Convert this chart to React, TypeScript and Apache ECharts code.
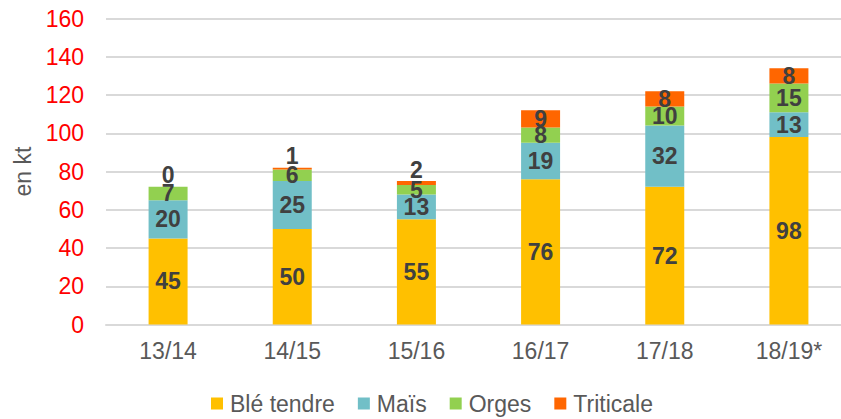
import React, { useEffect, useRef } from "react";
import * as echarts from "echarts";

const categories = ["13/14", "14/15", "15/16", "16/17", "17/18", "18/19*"];
const bleTendre = [45, 50, 55, 76, 72, 98];
const mais = [20, 25, 13, 19, 32, 13];
const orges = [7, 6, 5, 8, 10, 15];
const triticale = [0, 1, 2, 9, 8, 8];
const yTicks = [0, 20, 40, 60, 80, 100, 120, 140, 160];

const FONT = "'Liberation Sans', Arial, sans-serif";

export default function App() {
  const ref = useRef<HTMLDivElement>(null);
  useEffect(() => {
    if (!ref.current) return;
    const chart = echarts.init(ref.current, undefined, { renderer: "svg" });
    const labelStyle = {
      show: true,
      position: "inside" as const,
      color: "#404040",
      fontWeight: "bold" as const,
      fontSize: 23,
      fontFamily: FONT,
    };
    const mk = (name: string, data: any[], color: string) => ({
      name,
      type: "bar",
      stack: "total",
      barWidth: 39,
      data,
      itemStyle: { color },
      label: labelStyle,
    });
    chart.setOption({
      animation: false,
      textStyle: { fontFamily: FONT },
      grid: { left: 106, top: 18.5, width: 745, height: 306, containLabel: false },
      legend: {
        left: 206,
        top: 387,
        itemWidth: 12,
        itemHeight: 12,
        itemGap: 23,
        icon: "rect",
        textStyle: { color: "#595959", fontSize: 23, fontFamily: FONT, padding: [0, 0, 0, 2] },
        data: ["Blé tendre", "Maïs", "Orges", "Triticale"],
      },
      xAxis: {
        type: "category",
        data: categories,
        axisTick: { show: false },
        axisLine: { lineStyle: { color: "#D9D9D9", width: 2 } },
        axisLabel: { color: "#595959", fontSize: 23, fontFamily: FONT, margin: 15 },
      },
      yAxis: {
        type: "value",
        min: yTicks[0],
        max: yTicks[yTicks.length - 1],
        interval: 20,
        name: "en kt",
        nameLocation: "middle",
        nameGap: 70,
        nameTextStyle: { color: "#595959", fontSize: 23, fontFamily: FONT },
        axisLabel: { color: "#FF0000", fontSize: 23, fontFamily: FONT, margin: 22 },
        splitLine: { lineStyle: { color: "#D9D9D9", width: 2 } },
        axisLine: { show: false },
        axisTick: { show: false },
      },
      series: [
        mk("Blé tendre", bleTendre, "#FFC000"),
        mk("Maïs", mais, "#71BFC7"),
        mk("Orges", orges, "#92D050"),
        mk(
          "Triticale",
          triticale.map((v) => (v <= 2 ? { value: v, label: { position: "top", distance: 0 } } : v)),
          "#FF6600"
        ),
      ],
    });
    return () => chart.dispose();
  }, []);
  return (
    <div style={{ position: "absolute", left: 0, top: 0, width: 841, height: 419, overflow: "hidden" }}>
      <div ref={ref} style={{ width: 860, height: 419 }} />
    </div>
  );
}
